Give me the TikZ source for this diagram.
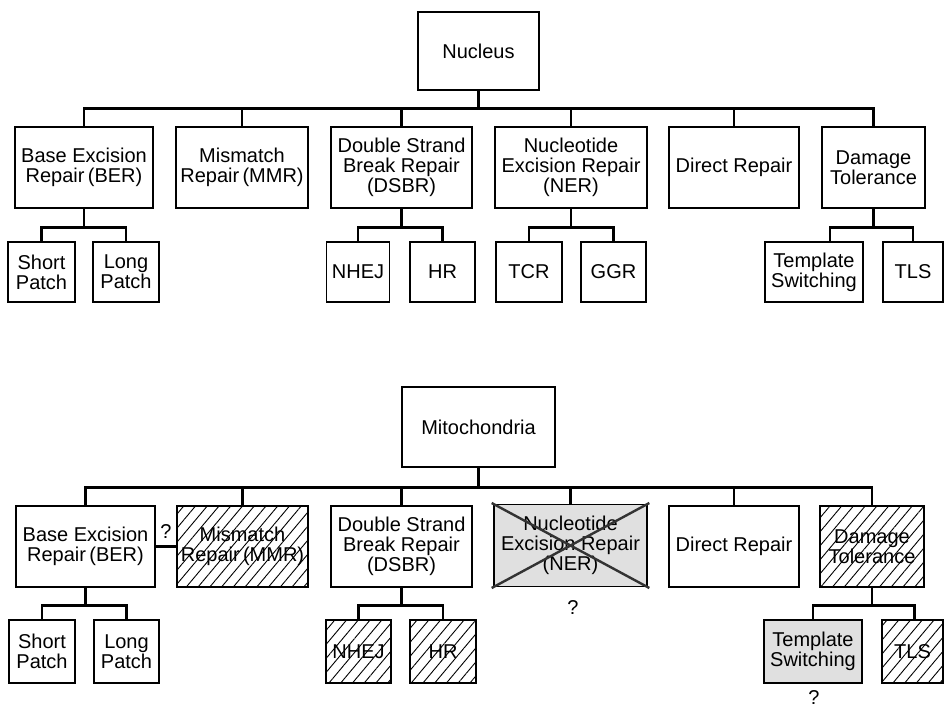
\documentclass[tikz,border=0pt]{standalone}
\usepackage{fontspec}
\setmainfont{Liberation Sans}
\usetikzlibrary{patterns.meta}
\begin{document}
\begin{tikzpicture}[x=1pt,y=-1pt,
  box/.style={draw, line width=1.1pt, inner sep=0pt, align=center,
              font=\fontsize{20}{20}\selectfont},
  sz/.style 2 args={minimum width=#1pt, minimum height=#2pt},
  conn/.style={line width=2.2pt},
  hatched/.style={pattern={Lines[angle=50,distance=9pt,line width=0.9pt]}},
  speckled/.style={fill=black!12},
  crossout/.style={line width=2.4pt, draw=black!80, shorten <=-2pt, shorten >=-2pt},
  qlabel/.style={font=\fontsize{20}{20}\selectfont, inner sep=0pt}
]
\useasboundingbox (0,0) rectangle (944,711);

% ---------------- Nucleus ----------------
\node[box, sz={121}{78}]  (nuc)  at (478.5,51)   {Nucleus};

\node[box, sz={138}{81}]  (ber)  at (84,167.5)   {Base Excision\\Repair\,(BER)};
\node[box, sz={132}{81}]  (mmr)  at (242,167.5)  {Mismatch\\Repair\,(MMR)};
\node[box, sz={141}{81}]  (dsbr) at (401.5,167.5){Double Strand\\Break Repair\\(DSBR)};
\node[box, sz={152}{81}]  (ner)  at (571,167.5)  {Nucleotide\\Excision Repair\\(NER)};
\node[box, sz={130}{81}]  (dir)  at (734,167.5)  {Direct Repair};
\node[box, sz={103}{81}]  (dam)  at (873.5,167.5){Damage\\Tolerance};

\node[box, sz={67}{60}]   (sp)   at (41.5,272)   {Short\\Patch};
\node[box, sz={66}{60}]   (lp)   at (126,272)    {Long\\Patch};
\node[box, sz={63}{60}]   (nhej) at (358,272)    {NHEJ};
\node[box, sz={65}{60}]   (hr)   at (442.5,272)  {HR};
\node[box, sz={66}{60}]   (tcr)  at (529,272)    {TCR};
\node[box, sz={65}{60}]   (ggr)  at (613.5,272)  {GGR};
\node[box, sz={98}{60}]   (ts)   at (814,272)    {Template\\Switching};
\node[box, sz={60}{60}]   (tls)  at (913,272)    {TLS};

\foreach \c in {ber,mmr,dsbr,ner,dir,dam}
  \draw[conn] (nuc.south) -- ++(0,18) -| (\c.north);
\draw[conn] (ber.south)  -- ++(0,19) -| (sp.north);
\draw[conn] (ber.south)  -- ++(0,19) -| (lp.north);
\draw[conn] (dsbr.south) -- ++(0,19) -| (nhej.north);
\draw[conn] (dsbr.south) -- ++(0,19) -| (hr.north);
\draw[conn] (ner.south)  -- ++(0,19) -| (tcr.north);
\draw[conn] (ner.south)  -- ++(0,19) -| (ggr.north);
\draw[conn] (dam.south)  -- ++(0,19) -| ([xshift=16pt]ts.north);
\draw[conn] (dam.south)  -- ++(0,19) -| (tls.north);

% ---------------- Mitochondria ----------------
\node[box, sz={153}{80}]  (mit)  at (478.5,427)  {Mitochondria};

\node[box, sz={139}{81}]  (ber2)  at (85.5,546.5) {Base Excision\\Repair\,(BER)};
\node[box, sz={131}{81}, hatched] (mmr2) at (242.5,546.5) {Mismatch\\Repair\,(MMR)};
\node[box, sz={141}{81}]  (dsbr2) at (401.5,546.5){Double Strand\\Break Repair\\(DSBR)};
\node[box, sz={153}{82}, speckled] (ner2) at (570.5,545.5) {Nucleotide\\Excision Repair\\(NER)};
\node[box, sz={130}{81}]  (dir2)  at (734,546.5)  {Direct Repair};
\node[box, sz={104}{81}, hatched] (dam2) at (872,546.5) {Damage\\Tolerance};

\node[box, sz={66}{63}]   (sp2)   at (42,651.5)   {Short\\Patch};
\node[box, sz={65}{63}]   (lp2)   at (126.5,651.5){Long\\Patch};
\node[box, sz={65}{63}, hatched] (nhej2) at (358.5,651.5) {NHEJ};
\node[box, sz={66}{63}, hatched] (hr2)   at (443,651.5)   {HR};
\node[box, sz={98}{63}, speckled] (ts2)  at (813,651.5)   {Template\\Switching};
\node[box, sz={61}{63}, hatched] (tls2)  at (912.5,651.5) {TLS};

\foreach \c in {ber2,mmr2,dsbr2,ner2,dir2,dam2}
  \draw[conn] (mit.south) -- ++(0,20) -| (\c.north);
\draw[conn] (ber2.south)  -- ++(0,18) -| (sp2.north);
\draw[conn] (ber2.south)  -- ++(0,18) -| (lp2.north);
\draw[conn] (dsbr2.south) -- ++(0,18) -| (nhej2.north);
\draw[conn] (dsbr2.south) -- ++(0,18) -| (hr2.north);
\draw[conn] (dam2.south)  -- ++(0,18) -| (ts2.north);
\draw[conn] (dam2.south)  -- ++(0,18) -| ([xshift=2pt]tls2.north);
\draw[conn] (ber2.east) -- (mmr2.west);

% NER crossed out
\draw[crossout] (ner2.south west) -- (ner2.north east);
\draw[crossout] (ner2.north west) -- (ner2.south east);

% open questions
\node[qlabel] (q1) at (166,532) {?};
\node[qlabel] (q2) at (573,608) {?};
\node[qlabel] (q3) at (814,698) {?};
\end{tikzpicture}
\end{document}
